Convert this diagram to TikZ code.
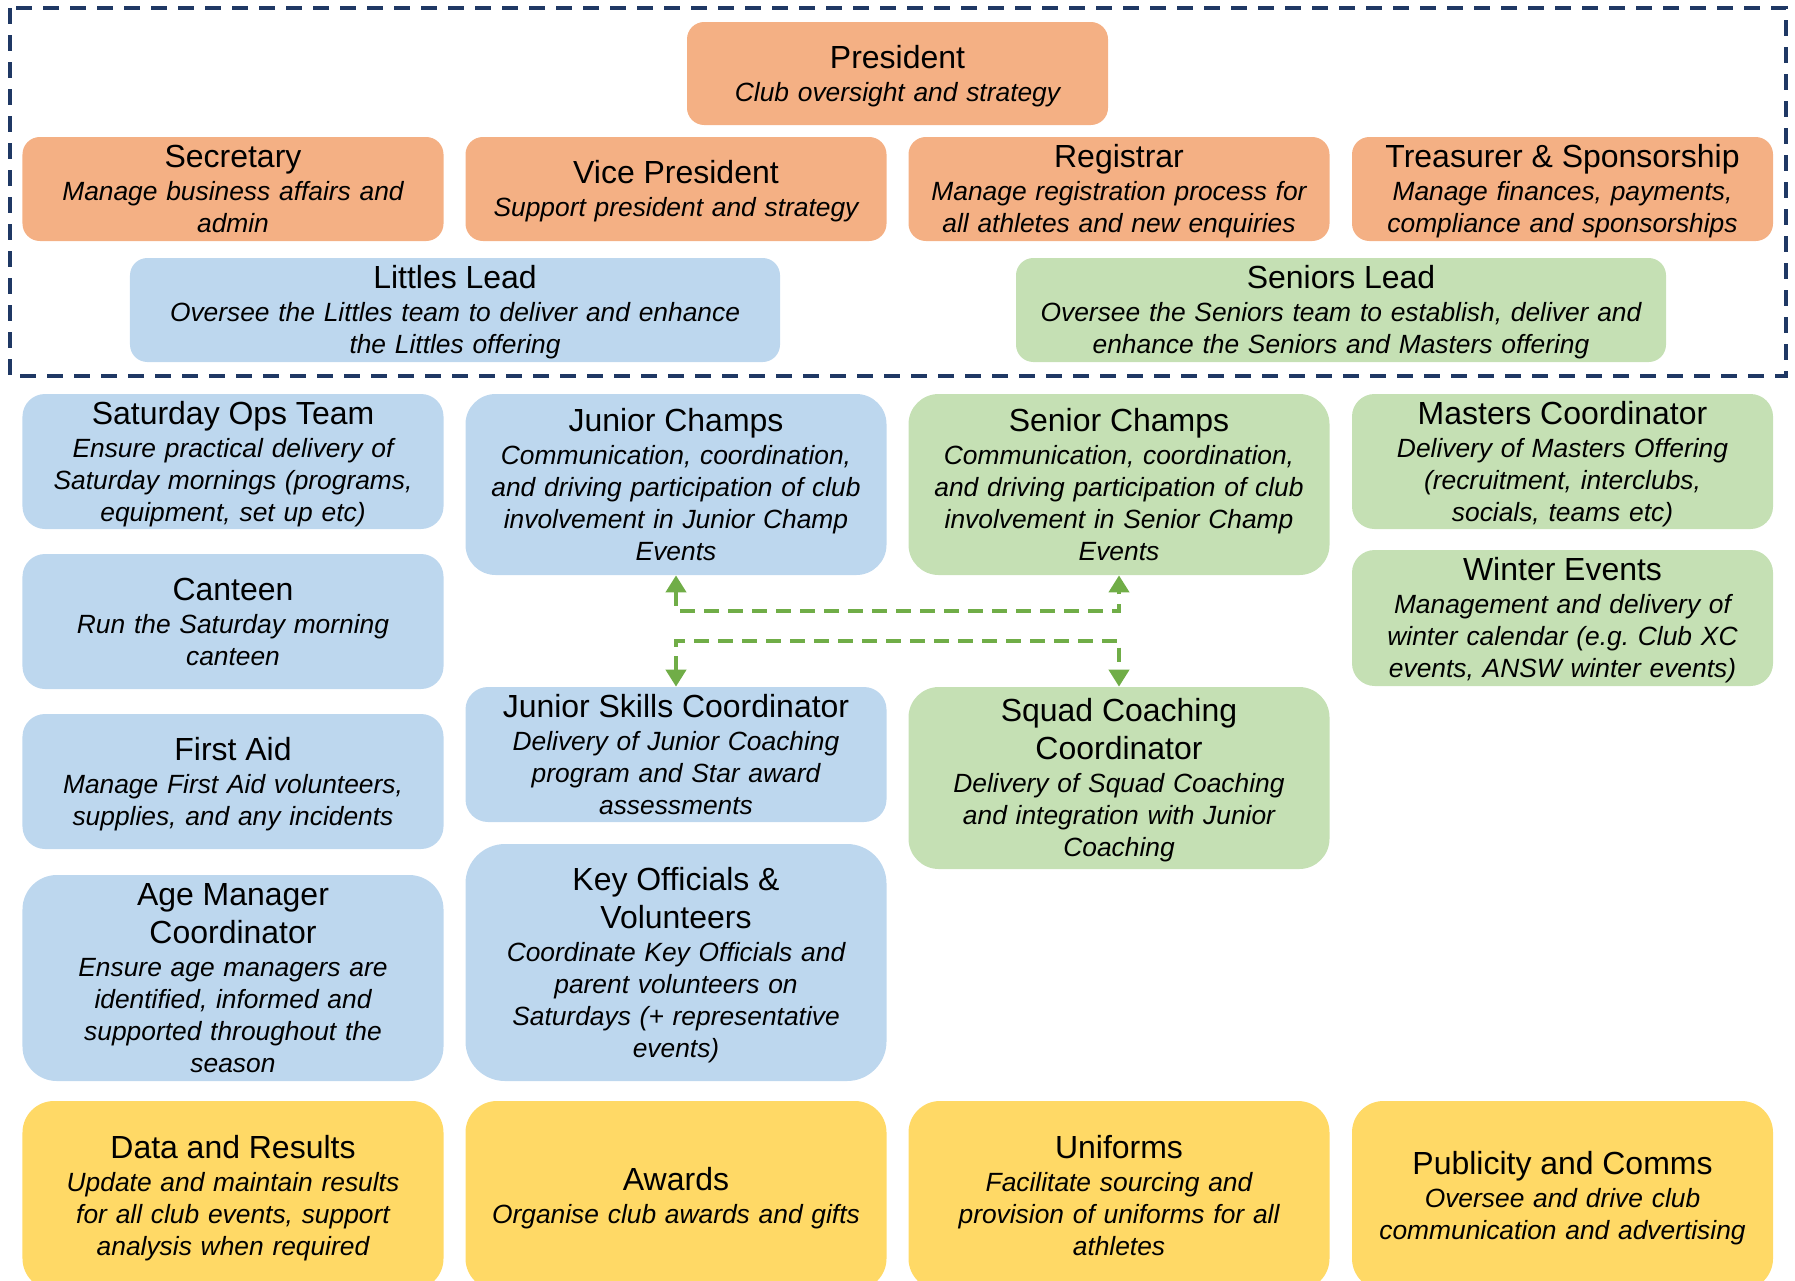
\documentclass[tikz,border=0pt]{standalone}
\usepackage{fontspec}
\setmainfont{Liberation Sans}
\usepackage{tikz}
\usetikzlibrary{arrows.meta}
\definecolor{execorange}{RGB}{244,176,132}
\definecolor{littlesblue}{RGB}{189,215,238}
\definecolor{seniorsgreen}{RGB}{197,224,180}
\definecolor{supportyellow}{RGB}{255,217,102}
\definecolor{framenavy}{RGB}{31,56,100}
\definecolor{linkgreen}{RGB}{112,173,71}
\newcommand{\titlefont}{\fontsize{18.2}{21.8}\selectfont\upshape}
\newcommand{\descfont}{\fontsize{15}{18.2}\selectfont\itshape}

\begin{document}
\begin{tikzpicture}[x=0.2mm, y=-0.2mm, >={Triangle[length=3.4mm, width=4mm]},
  rolebox/.style={rounded corners=#1/6, minimum height=#1, text width=84.2mm,
    inner xsep=0pt, inner ysep=0pt, align=center, font=\descfont,
    execute at begin node={\rule{0pt}{16pt}},
    execute at end node={\rule[-3.4pt]{0pt}{3.4pt}}},
  link/.style={<->, linkgreen, line width=0.8mm, dash pattern=on 2.9mm off 1.9mm}]

  \useasboundingbox (0,0) rectangle (1795,1280);
  \clip (0,0) rectangle (1795,1280);

  % ========== COMMITTEE ==========
  \draw[framenavy, line width=0.66mm, dash pattern=on 3.2mm off 2.2mm]
    (10,8) rectangle (1786,376);

  \node[rolebox=20.6mm, fill=execorange] (pres) at (897.5,73.5)
    {{\titlefont President}\\[0.6pt] Club oversight and strategy};

  % Office bearers
  \node[rolebox=20.8mm, fill=execorange] (sec) at (233,189)
    {{\titlefont Secretary}\\[0.6pt] Manage business affairs and\\admin};
  \node[rolebox=20.8mm, fill=execorange] (vp) at (676,189)
    {{\titlefont Vice President}\\[0.6pt] Support president and strategy};
  \node[rolebox=20.8mm, fill=execorange] (reg) at (1119,189)
    {{\titlefont Registrar}\\[0.6pt] Manage registration process for\\all athletes and new enquiries};
  \node[rolebox=20.8mm, fill=execorange] (treas) at (1562.5,189)
    {{\titlefont Treasurer \& Sponsorship}\\[0.6pt] Manage finances, payments,\\compliance and sponsorships};

  % Leads
  \node[rolebox=20.8mm, fill=littlesblue, text width=130mm] (littles) at (455,310)
    {{\titlefont Littles Lead}\\[0.6pt] Oversee the Littles team to deliver and enhance\\the Littles offering};
  \node[rolebox=20.8mm, fill=seniorsgreen, text width=130mm] (seniors) at (1341,310)
    {{\titlefont Seniors Lead}\\[0.6pt] Oversee the Seniors team to establish, deliver and\\enhance the Seniors and Masters offering};

  % ========== LITTLES ==========
  \node[rolebox=27mm, fill=littlesblue] (satops) at (233,461.5)
    {{\titlefont Saturday Ops Team}\\[0.6pt] Ensure practical delivery of\\Saturday mornings (programs,\\equipment, set up etc)};
  \node[rolebox=27mm, fill=littlesblue] (canteen) at (233,621.5)
    {{\titlefont Canteen}\\[0.6pt] Run the Saturday morning\\canteen};
  \node[rolebox=27mm, fill=littlesblue] (firstaid) at (233,781.5)
    {{\titlefont First Aid}\\[0.6pt] Manage First Aid volunteers,\\supplies, and any incidents};
  \node[rolebox=41.2mm, fill=littlesblue] (agemgr) at (233,978)
    {{\titlefont Age Manager\\[3.4pt] Coordinator}\\[0.6pt] Ensure age managers are\\identified, informed and\\supported throughout the\\season};

  \node[rolebox=36.2mm, fill=littlesblue] (jchamps) at (676,484.5)
    {{\titlefont Junior Champs}\\[0.6pt] Communication, coordination,\\and driving participation of club\\involvement in Junior Champ\\Events};
  \node[rolebox=27mm, fill=littlesblue] (jskills) at (676,754.5)
    {{\titlefont Junior Skills Coordinator}\\[0.6pt] Delivery of Junior Coaching\\program and Star award\\assessments};
  \node[rolebox=47.4mm, fill=littlesblue] (officials) at (676,962.5)
    {{\titlefont Key Officials \&\\[3.4pt] Volunteers}\\[0.6pt] Coordinate Key Officials and\\parent volunteers on\\Saturdays (+ representative\\events)};

  % ========== SENIORS ==========
  \node[rolebox=36.2mm, fill=seniorsgreen] (schamps) at (1119,484.5)
    {{\titlefont Senior Champs}\\[0.6pt] Communication, coordination,\\and driving participation of club\\involvement in Senior Champ\\Events};
  \node[rolebox=36.4mm, fill=seniorsgreen] (squad) at (1119,778)
    {{\titlefont Squad Coaching\\[3.4pt] Coordinator}\\[0.6pt] Delivery of Squad Coaching\\and integration with Junior\\Coaching};

  \node[rolebox=27mm, fill=seniorsgreen] (masters) at (1562.5,461.5)
    {{\titlefont Masters Coordinator}\\[0.6pt] Delivery of Masters Offering\\(recruitment, interclubs,\\socials, teams etc)};
  \node[rolebox=27.2mm, fill=seniorsgreen] (winter) at (1562.5,618)
    {{\titlefont Winter Events}\\[0.6pt] Management and delivery of\\winter calendar (e.g.\ Club XC\\events, ANSW winter events)};

  % Links between junior and senior roles
  \draw[link] (jchamps.south) -- ++(0,36) -| (schamps.south);
  \draw[link] (jskills.north) -- ++(0,-46) -| (squad.north);

  % ========== CLUB SUPPORT ==========
  \node[rolebox=37.8mm, fill=supportyellow] (data) at (233,1195.5)
    {{\titlefont Data and Results}\\[0.6pt] Update and maintain results\\for all club events, support\\analysis when required};
  \node[rolebox=37.8mm, fill=supportyellow] (awards) at (676,1195.5)
    {{\titlefont Awards}\\[0.6pt] Organise club awards and gifts};
  \node[rolebox=37.8mm, fill=supportyellow] (uniforms) at (1119,1195.5)
    {{\titlefont Uniforms}\\[0.6pt] Facilitate sourcing and\\provision of uniforms for all\\athletes};
  \node[rolebox=37.8mm, fill=supportyellow] (publicity) at (1562.5,1195.5)
    {{\titlefont Publicity and Comms}\\[0.6pt] Oversee and drive club\\communication and advertising};

\end{tikzpicture}
\end{document}
